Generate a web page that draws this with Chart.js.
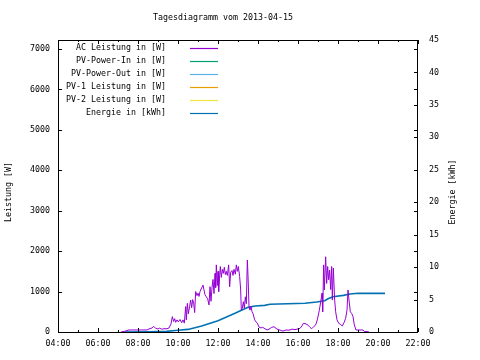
<!DOCTYPE html>
<html>
<head>
<meta charset="utf-8">
<script src="https://cdn.jsdelivr.net/npm/chart.js@4/dist/chart.umd.min.js"></script>
<style>
  body { margin: 0; background: #fff; }
  #chart { display: block; }
</style>
</head>
<body>
<canvas id="chart" width="480" height="360"></canvas>
<script>
var titleText = "Tagesdiagramm vom 2013-04-15";
var seriesNames = ["AC Leistung in [W]", "PV-Power-In in [W]", "PV-Power-Out in [W]",
                   "PV-1 Leistung in [W]", "PV-2 Leistung in [W]", "Energie in [kWh]"];
var seriesColors = ["#9400d3", "#009e73", "#56b4e9", "#e69f00", "#f0e442", "#0072b2"];
var xTickHours = [4, 6, 8, 10, 12, 14, 16, 18, 20, 22];
var leftTicks = [0, 1000, 2000, 3000, 4000, 5000, 6000, 7000];
var rightTicks = [0, 5, 10, 15, 20, 25, 30, 35, 40, 45];

// AC Leistung (W)
var acTimes = ["07:09","07:21","07:33","08:27","08:33","08:42","08:47","08:53","09:00","09:05",
  "09:11","09:18","09:27","09:33","09:39","09:43","09:47","09:50","09:53","09:57",
  "10:01","10:06","10:11","10:15","10:19","10:23","10:25","10:28","10:31","10:35",
  "10:38","10:41","10:44","10:47","10:50","10:53","10:57","11:00","11:03","11:06",
  "11:11","11:15","11:18","11:21","11:25","11:29","11:33","11:36","11:39","11:42",
  "11:45","11:48","11:51","11:53","11:55","11:58","12:00","12:02","12:05","12:07",
  "12:10","12:13","12:16","12:19","12:22","12:25","12:28","12:32","12:35","12:38",
  "12:42","12:45","12:48","12:52","12:55","12:58","13:01","13:05","13:08","13:10",
  "13:13","13:16","13:19","13:22","13:25","13:28","13:30","13:33","13:36","13:39",
  "13:42","13:45","13:50","13:54","13:58","14:03","14:09","14:14","14:21","14:27",
  "14:33","14:41","14:48","14:54","15:00","15:06","15:12","15:18","15:24","15:33",
  "15:42","15:51","15:57","16:06","16:12","16:16","16:24","16:30","16:36","16:41",
  "16:48","16:53","16:58","17:04","17:09","17:12","17:14","17:17","17:19","17:23",
  "17:26","17:29","17:32","17:35","17:38","17:41","17:43","17:46","17:50","17:53",
  "17:57","18:02","18:07","18:13","18:18","18:23","18:27","18:30","18:33","18:37",
  "18:41","18:45","18:49","18:54","19:03","19:15","19:19","19:27","19:33"];
var acWatt = [0,20,50,50,75,100,140,90,75,95,
  70,80,80,100,200,380,260,330,240,300,
  250,310,230,300,220,630,300,710,450,640,
  790,600,800,720,480,1000,900,960,880,1000,
  1090,1160,1040,920,870,820,670,1120,760,1100,
  1300,950,1450,1100,1660,1150,1500,1000,1400,1620,
  1350,1550,1450,1600,1420,1500,1400,1660,1120,1480,
  1520,1400,1550,1430,1660,1500,1620,1370,1040,540,
  590,750,590,870,700,1780,1400,630,540,640,
  500,460,300,250,220,120,100,115,80,50,
  70,115,130,90,60,50,25,30,50,45,
  70,60,70,90,150,215,200,170,115,80,
  140,175,300,540,790,960,500,1660,1040,1860,
  1200,1620,1290,1530,1050,1620,790,1580,790,500,
  300,215,190,150,230,340,540,1040,790,500,
  460,380,175,50,50,50,10,10,0];

// Energie (kWh)
var energyTimes = ["07:21","08:30","09:26","10:00","10:30","11:11","12:00","12:51","13:30","13:51",
  "14:20","14:36","16:21","16:56","17:20","17:30","17:45","18:16","18:36","19:00","20:21"];
var energyKwh = [0,0.05,0.1,0.26,0.4,0.92,1.75,2.88,3.8,4.0,
  4.1,4.27,4.42,4.62,4.82,5.13,5.44,5.65,5.85,5.96,5.96];

var fontFamily = "'DejaVu Sans Mono', monospace";
var fontSize = 8.3;

function toHours(t) {
  var p = t.split(":");
  return Number(p[0]) + Number(p[1]) / 60;
}
function toPoints(times, values) {
  var pts = [];
  for (var i = 0; i < times.length; i++) {
    pts.push({ x: toHours(times[i]), y: values[i] });
  }
  return pts;
}
function pad2(n) { return (n < 10 ? "0" : "") + n; }
function fixedTicks(list) {
  return function (sc) {
    sc.ticks = list.map(function (v) { return { value: v }; });
  };
}
function plainLabel(v) { return String(v); }

var datasets = [];
for (var i = 0; i < seriesNames.length; i++) {
  var d = [];
  if (i === 0) d = toPoints(acTimes, acWatt);
  if (i === 5) d = toPoints(energyTimes, energyKwh);
  datasets.push({
    label: seriesNames[i],
    data: d,
    borderColor: seriesColors[i],
    backgroundColor: seriesColors[i],
    borderWidth: i === 5 ? 1.6 : 1,
    pointRadius: 0,
    tension: 0,
    yAxisID: i === 5 ? "y1" : "y"
  });
}

// frame, inward tick marks, title, axis titles and gnuplot-style legend
var gnuplotLook = {
  id: "gnuplotLook",
  afterDraw: function (chart) {
    var ctx = chart.ctx, a = chart.chartArea, s = chart.scales;
    ctx.save();
    ctx.strokeStyle = "#000";
    ctx.lineWidth = 1;
    ctx.strokeRect(a.left + 0.5, a.top + 0.5, a.right - a.left - 1, a.bottom - a.top);

    ctx.beginPath();
    for (var h = 4; h <= 22; h++) {
      var px = Math.round(s.x.getPixelForValue(h)) + 0.5;
      var len = h % 2 === 0 ? 4 : 2;
      ctx.moveTo(px, a.bottom); ctx.lineTo(px, a.bottom - len);
      ctx.moveTo(px, a.top); ctx.lineTo(px, a.top + len);
    }
    leftTicks.forEach(function (v) {
      var py = Math.round(s.y.getPixelForValue(v)) + 0.5;
      ctx.moveTo(a.left, py); ctx.lineTo(a.left + 4, py);
      ctx.moveTo(a.right, py); ctx.lineTo(a.right - 4, py);
    });
    rightTicks.forEach(function (v) {
      var py = Math.round(s.y1.getPixelForValue(v)) + 0.5;
      ctx.moveTo(a.right, py); ctx.lineTo(a.right - 4, py);
    });
    ctx.stroke();

    ctx.fillStyle = "#000";
    ctx.font = fontSize + "px " + fontFamily;
    ctx.textAlign = "center";
    ctx.textBaseline = "middle";
    ctx.fillText(titleText, 223, 18);

    ctx.save();
    ctx.translate(9, 192);
    ctx.rotate(-Math.PI / 2);
    ctx.fillText("Leistung [W]", 0, 0);
    ctx.restore();
    ctx.save();
    ctx.translate(453, 192);
    ctx.rotate(-Math.PI / 2);
    ctx.fillText("Energie [kWh]", 0, 0);
    ctx.restore();

    ctx.textAlign = "right";
    chart.data.datasets.forEach(function (ds, k) {
      var ly = 48 + k * 12.9;
      ctx.fillStyle = "#000";
      ctx.fillText(ds.label, 166, ly);
      ctx.strokeStyle = ds.borderColor;
      ctx.lineWidth = 1.2;
      ctx.beginPath();
      ctx.moveTo(190, Math.round(ly) + 0.5);
      ctx.lineTo(218, Math.round(ly) + 0.5);
      ctx.stroke();
    });
    ctx.restore();
  }
};

var tickFont = { family: fontFamily, size: fontSize };

new Chart(document.getElementById("chart"), {
  type: "line",
  data: { datasets: datasets },
  plugins: [gnuplotLook],
  options: {
    responsive: false,
    animation: false,
    devicePixelRatio: 1,
    layout: { padding: { top: 40, left: 0, right: 0, bottom: 0 } },
    plugins: { legend: { display: false }, tooltip: { enabled: false }, title: { display: false } },
    scales: {
      x: {
        type: "linear",
        min: 4, max: 22,
        afterBuildTicks: fixedTicks(xTickHours),
        afterFit: function (sc) { sc.height = 28; },
        ticks: {
          font: tickFont, color: "#000", padding: 7, maxRotation: 0, autoSkip: false,
          callback: function (v) { return pad2(v) + ":00"; }
        },
        grid: { display: false, drawTicks: false },
        border: { display: false }
      },
      y: {
        position: "left",
        min: 0, max: 7222,
        afterBuildTicks: fixedTicks(leftTicks),
        afterFit: function (sc) { sc.width = 58; },
        ticks: { font: tickFont, color: "#000", padding: 8, autoSkip: false, callback: plainLabel },
        grid: { display: false, drawTicks: false },
        border: { display: false }
      },
      y1: {
        position: "right",
        min: 0, max: 45,
        afterBuildTicks: fixedTicks(rightTicks),
        afterFit: function (sc) { sc.width = 62; },
        ticks: { font: tickFont, color: "#000", padding: 11, autoSkip: false, callback: plainLabel },
        grid: { display: false, drawTicks: false },
        border: { display: false }
      }
    }
  }
});
</script>
</body>
</html>
